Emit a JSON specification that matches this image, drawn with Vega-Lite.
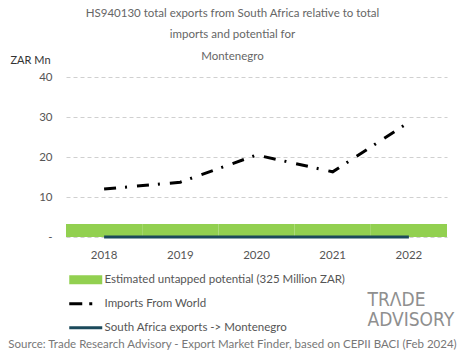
{
  "$schema": "https://vega.github.io/schema/vega-lite/v6.json",
  "autosize": "none",
  "width": 381,
  "height": 160,
  "padding": {"left": 66, "top": 77, "right": 18, "bottom": 122},
  "background": "white",
  "config": {
    "font": "Lato",
    "view": {"stroke": null}
  },
  "title": {
    "text": ["HS940130 total exports from South Africa relative to total", "imports and potential for", "Montenegro"],
    "anchor": "middle",
    "dx": -24,
    "offset": -8,
    "fontSize": 11.5,
    "fontWeight": "normal",
    "color": "#666666",
    "lineHeight": 21.5
  },
  "data": {
    "values": [
      {"year": "2018", "series": "Estimated untapped potential (325 Million ZAR)", "value": 3.25},
      {"year": "2019", "series": "Estimated untapped potential (325 Million ZAR)", "value": 3.25},
      {"year": "2020", "series": "Estimated untapped potential (325 Million ZAR)", "value": 3.25},
      {"year": "2021", "series": "Estimated untapped potential (325 Million ZAR)", "value": 3.25},
      {"year": "2022", "series": "Estimated untapped potential (325 Million ZAR)", "value": 3.25},
      {"year": "2018", "series": "Imports From World", "value": 12.0},
      {"year": "2019", "series": "Imports From World", "value": 13.7},
      {"year": "2020", "series": "Imports From World", "value": 20.5},
      {"year": "2021", "series": "Imports From World", "value": 16.3},
      {"year": "2022", "series": "Imports From World", "value": 28.7},
      {"year": "2018", "series": "South Africa exports -> Montenegro", "value": 0.0},
      {"year": "2019", "series": "South Africa exports -> Montenegro", "value": 0.0},
      {"year": "2020", "series": "South Africa exports -> Montenegro", "value": 0.0},
      {"year": "2021", "series": "South Africa exports -> Montenegro", "value": 0.0},
      {"year": "2022", "series": "South Africa exports -> Montenegro", "value": 0.0}
    ]
  },
  "layer": [
    {
      "encoding": {
        "x": {
          "field": "year",
          "type": "ordinal",
          "scale": {"paddingInner": 0, "paddingOuter": 0},
          "axis": {
            "labelAngle": 0,
            "labelFontSize": 11.5,
            "labelColor": "#555555",
            "labelPadding": 12,
            "ticks": false,
            "domain": false,
            "title": "Source: Trade Research Advisory - Export Market Finder, based on CEPII BACI (Feb 2024)",
            "titleFontSize": 11.5,
            "titleFontWeight": "normal",
            "titleColor": "#777777",
            "titleX": 166,
            "titleY": 107,
            "titleAlign": "center",
            "titleBaseline": "middle"
          }
        },
        "y": {
          "field": "value",
          "type": "quantitative",
          "scale": {"domain": [0, 40]},
          "axis": {
            "values": [0, 10, 20, 30, 40],
            "labelExpr": "datum.value === 0 ? '-' : datum.label",
            "labelFontSize": 11.5,
            "labelColor": "#555555",
            "labelPadding": 14,
            "ticks": false,
            "domain": false,
            "gridDash": [4, 3],
            "gridColor": "#d0d0d0",
            "title": "ZAR Mn",
            "titleAngle": 0,
            "titleAlign": "left",
            "titleBaseline": "middle",
            "titleX": -56,
            "titleY": -17,
            "titleFontSize": 11,
            "titleFontWeight": "normal",
            "titleColor": "#333333"
          }
        },
        "color": {
          "field": "series",
          "type": "nominal",
          "scale": {
            "domain": ["Estimated untapped potential (325 Million ZAR)", "Imports From World", "South Africa exports -> Montenegro"],
            "range": ["#92d050", "#000000", "#1b4a5b"]
          },
          "legend": {
            "orient": "none",
            "legendX": 14,
            "legendY": 197,
            "direction": "vertical",
            "title": null,
            "symbolType": "stroke",
            "symbolSize": 1089,
            "symbolStrokeWidth": 3,
            "labelFontSize": 11.5,
            "labelColor": "#555555",
            "labelOffset": 13,
            "labelLimit": 400,
            "gridAlign": "all",
            "rowPadding": -7,
            "encode": {
              "symbols": {
                "update": {
                  "stroke": {"signal": "scale('color', datum.value)"},
                  "strokeWidth": {"signal": "datum.value === 'Estimated untapped potential (325 Million ZAR)' ? 9 : 3"},
                  "strokeDash": {"signal": "datum.value === 'Imports From World' ? [13, 7, 3, 20] : [1, 0]"},
                  "strokeCap": {"value": "butt"}
                }
              }
            }
          }
        }
      },
      "layer": [
        {
          "transform": [{"filter": "datum.series === 'Estimated untapped potential (325 Million ZAR)'"}],
          "mark": {"type": "bar"}
        },
        {
          "transform": [{"filter": "datum.series === 'Imports From World'"}],
          "mark": {"type": "line", "strokeWidth": 3, "strokeDash": [12, 9, 2, 10]}
        },
        {
          "transform": [{"filter": "datum.series === 'South Africa exports -> Montenegro'"}],
          "mark": {"type": "line", "strokeWidth": 3}
        }
      ]
    },
    {
      "data": {"values": [{"year": "2022", "value": 0}]},
      "mark": {"type": "point", "opacity": 0},
      "encoding": {
        "y": {
          "field": "value",
          "type": "quantitative",
          "scale": {"domain": [0, 40]},
          "axis": {
            "orient": "right",
            "labels": false,
            "ticks": false,
            "domain": false,
            "grid": false,
            "title": ["TRΛDE", "ADVISORY"],
            "titleAngle": 0,
            "titleAlign": "left",
            "titleBaseline": "top",
            "titleX": -80,
            "titleY": 213,
            "titleFont": "DejaVu Sans Condensed",
            "titleFontSize": 19,
            "titleFontWeight": "normal",
            "titleColor": "#8f8f8f",
            "titleLineHeight": 20
          }
        }
      }
    }
  ],
  "resolve": {"scale": {"y": "independent"}}
}
